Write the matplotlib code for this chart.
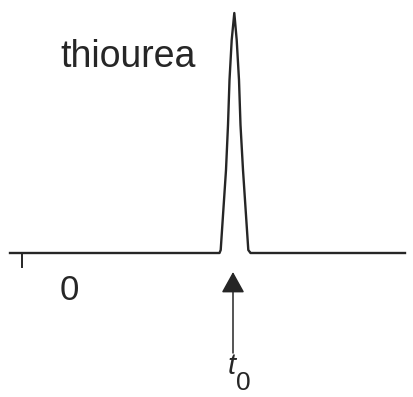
import matplotlib.pyplot as plt

# trace (time in arbitrary units, signal height)
t = [-1.2, 19.5, 19.75, 19.87, 20.4, 20.6, 20.75, 20.97, 21.23,
     21.47, 21.7, 21.85, 22.1, 22.63, 22.85, 22.95, 38.3]
signal = [0, 0, 0, 3, 83, 128, 173, 213, 240,
          213, 173, 128, 83, 3, 0, 0, 0]

t_zero_tick = 0.0
t0 = 21.1
peak_name = 'thiourea'
zero_label = '0'

plt.rcParams['font.family'] = ['Liberation Sans', 'DejaVu Sans']

fig = plt.figure(figsize=(4.13, 3.97), dpi=100)
ax = fig.add_axes([0, 0, 1, 1])
ax.set_xlim(-2.2, 39.1)
ax.set_ylim(-144, 253)
ax.axis('off')

ink = '#262626'
ax.plot(t, signal, color=ink, linewidth=1.7, solid_joinstyle='round')

# small tick marking zero time
ax.plot([t_zero_tick, t_zero_tick], [0, -14], color=ink, linewidth=1.4)
ax.text(4.7, -37, zero_label, fontsize=25, color=ink, ha='center', va='center')

# arrow pointing at t0
ax.annotate('', xy=(t0, -19), xytext=(t0, -100),
            arrowprops=dict(arrowstyle='-|>,head_length=1.3,head_width=0.72',
                            mutation_scale=10, color=ink, lw=1.1,
                            shrinkA=0, shrinkB=0))
ax.text(t0 - 0.1, -121, 't', fontsize=21, style='italic', color=ink,
        ha='center', va='baseline')
ax.text(t0 + 1.05, -137, '0', fontsize=19, color=ink, ha='center', va='baseline')

ax.text(3.8, 186, peak_name, fontsize=27, color=ink, ha='left', va='baseline')

fig.savefig('out.png', dpi=100)
